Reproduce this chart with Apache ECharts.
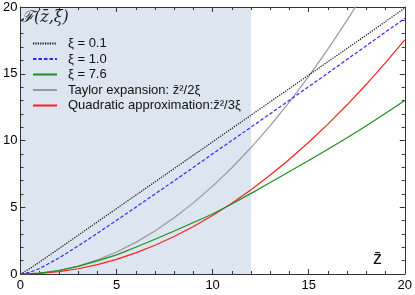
<!DOCTYPE html>
<html><head><meta charset="utf-8">
<script src="https://cdn.jsdelivr.net/npm/echarts@6/dist/echarts.min.js"></script>
<style>html,body{margin:0;padding:0;background:#fff}#c{width:415px;height:295px}</style>
</head><body><div id="c"></div>
<script>
// Data
const zBlack = [0, 0.5, 1, 2, 4, 6, 8, 10, 12, 14, 16, 18, 20];
const yBlack = [0, 0.42, 0.9, 1.9, 3.9, 5.9, 7.9, 9.9, 11.9, 13.9, 15.9, 17.9, 19.92];
const zBlue = [0, 0.5, 1, 1.5, 2, 3, 4, 5, 6, 8, 10, 12, 14, 16, 18, 20];
const yBlue = [0, 0.13, 0.42, 0.8, 1.2, 2.1, 3.05, 4.02, 5.0, 6.98, 9.0, 11.0, 13.02, 15.05, 17.1, 19.15];
const zGrid = [0, 1, 2, 3, 4, 5, 6, 7, 8, 9, 10, 11, 12, 13, 14, 15, 16, 17, 18, 19, 20];
const yGreen = [0, 0.065, 0.26, 0.57, 0.98, 1.43, 2.0, 2.6, 3.22, 3.86, 4.5, 5.25, 6.04, 6.85, 7.68, 8.5, 9.35, 10.2, 11.1, 12.05, 13.0];
const zTaylor = [0, 1, 2, 3, 4, 5, 6, 7, 8, 9, 10, 11, 12, 13, 14, 15, 16, 17, 18];
const yTaylor = [0, 0.066, 0.263, 0.592, 1.053, 1.645, 2.368, 3.224, 4.211, 5.329, 6.579, 7.961, 9.474, 11.118, 12.895, 14.803, 16.842, 19.013, 21.316];
const yQuad = [0, 0.044, 0.175, 0.395, 0.702, 1.096, 1.579, 2.149, 2.807, 3.553, 4.386, 5.307, 6.316, 7.412, 8.596, 9.868, 11.228, 12.675, 14.211, 15.833, 17.544];
const shadeRange = [0, 12];
const xTicks = [0, 5, 10, 15, 20];
const names = ['ξ = 0.1', 'ξ = 1.0', 'ξ = 7.6', 'Taylor expansion: z̄²/2ξ', 'Quadratic approximation:z̄²/3ξ'];

const pairs = (xs, ys) => xs.map((x, i) => [x, ys[i]]);
const chart = echarts.init(document.getElementById('c'), null, {renderer: 'canvas'});
const font = 'Liberation Sans, Arial, sans-serif';
const axisCommon = {
  type: 'value', min: 0, max: 20, interval: 5,
  axisLine: {show: true, onZero: false, lineStyle: {color: '#333', width: 1}},
  axisTick: {show: true, inside: true, length: 5, lineStyle: {color: '#333'}},
  minorTick: {show: true, splitNumber: 5, length: 3, lineStyle: {color: '#333'}},
  splitLine: {show: false},
  axisLabel: {color: '#000', fontSize: 13, fontFamily: font}
};
const lineSeries = (name, data, color, type, z) => ({
  name, type: 'line', data, symbol: 'none', smooth: false, clip: true, z: z,
  lineStyle: {color, width: 1.2, type}, itemStyle: {color}
});
chart.setOption({
  animation: false,
  grid: {left: 20, right: 8, top: 7, bottom: 21},
  xAxis: [
    Object.assign({}, axisCommon, {position: 'bottom', axisLabel: Object.assign({}, axisCommon.axisLabel, {margin: 5, formatter: v => xTicks.includes(v) ? String(v) : ''})}),
    Object.assign({}, axisCommon, {position: 'top', axisLabel: {show: false}})
  ],
  yAxis: [
    Object.assign({}, axisCommon, {position: 'left', axisLabel: Object.assign({}, axisCommon.axisLabel, {margin: 3})}),
    Object.assign({}, axisCommon, {position: 'right', axisLabel: {show: false}})
  ],
  title: {text: 'ℱ(z̄,ξ)', left: 21, top: 10, padding: 0,
    textStyle: {fontSize: 16, fontWeight: 'normal', fontStyle: 'italic', fontFamily: 'DejaVu Serif, serif', color: '#222'}},
  legend: {
    orient: 'vertical', left: 27, top: 32, itemWidth: 24, itemHeight: 10, itemGap: 2.5,
    data: names, selectedMode: false,
    itemStyle: {opacity: 0},
    textStyle: {fontSize: 13, fontFamily: font, color: '#111', padding: [0, 0, 0, 6]}
  },
  series: [
    lineSeries(names[0], pairs(zBlack, yBlack), '#111111', [1.2, 1.2], 5),
    lineSeries(names[1], pairs(zBlue, yBlue), '#2a2aff', [3.5, 2], 5),
    lineSeries(names[2], pairs(zGrid, yGreen), '#1f8f1f', 'solid', 4),
    lineSeries(names[3], pairs(zTaylor, yTaylor), '#9a9a9a', 'solid', 3),
    Object.assign(lineSeries(names[4], pairs(zGrid, yQuad), '#ff2020', 'solid', 3), {
      markArea: {silent: true, itemStyle: {color: '#dce5f0'}, z: 0,
        data: [[{xAxis: shadeRange[0]}, {xAxis: shadeRange[1]}]]}
    })
  ],
  graphic: [{type: 'text', left: 373, top: 250, z: 100,
    style: {text: 'z̄', fontSize: 18, fontFamily: font, fill: '#111'}}]
});
</script></body></html>
